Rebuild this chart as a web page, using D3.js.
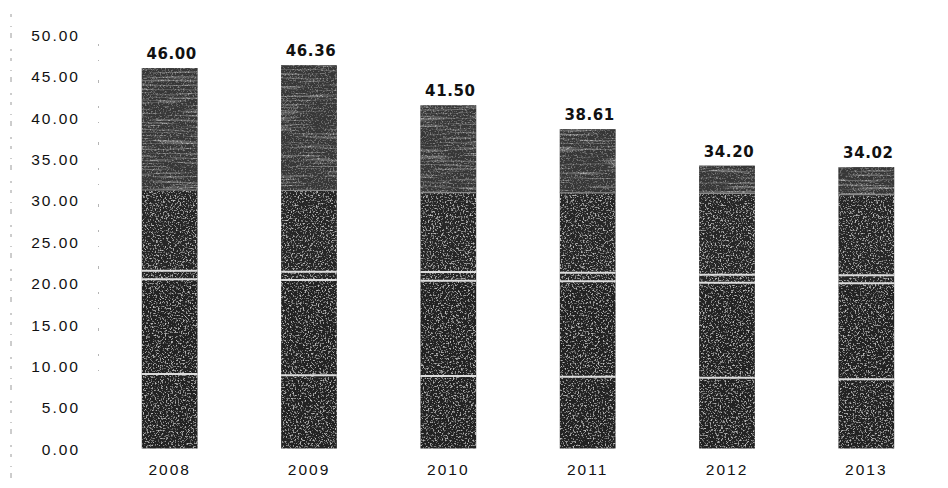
<!DOCTYPE html>
<html>
<head>
<meta charset="utf-8">
<script src="https://cdn.jsdelivr.net/npm/d3@7/dist/d3.min.js"></script>
<style>
  html, body { margin: 0; padding: 0; background: #ffffff; }
  svg { display: block; }
  .tick-label { font-family: "Liberation Sans", Arial, sans-serif; font-size: 15.5px; fill: #111; letter-spacing: 2px; }
  .value-label { font-family: "DejaVu Sans", Verdana, sans-serif; font-weight: bold; font-size: 15px; fill: #111; letter-spacing: 0.6px; }
</style>
</head>
<body>
<svg id="chart" width="948" height="488"></svg>
<script>
// Years on the category axis
const years = ["2008", "2009", "2010", "2011", "2012", "2013"];

// Total per year (printed above each bar)
const totals = [46.00, 46.36, 41.50, 38.61, 34.20, 34.02];

// Stacked components, bottom to top (the top component is the remainder of the total)
const part1 = [9.00, 8.87, 8.77, 8.68, 8.56, 8.37];
const part2 = [11.46, 11.50, 11.52, 11.54, 11.49, 11.61];
const part3 = [1.04, 1.01, 1.05, 1.04, 0.97, 0.96];
const part4 = [9.76, 9.82, 9.59, 9.64, 9.84, 9.76];

// Value axis ticks
const yTicks = [0, 5, 10, 15, 20, 25, 30, 35, 40, 45, 50];

const rows = years.map((y, i) => ({
  year: y,
  p1: part1[i],
  p2: part2[i],
  p3: part3[i],
  p4: part4[i],
  p5: totals[i] - part1[i] - part2[i] - part3[i] - part4[i],
  total: totals[i]
}));

const keys = ["p1", "p2", "p3", "p4", "p5"];
const series = d3.stack().keys(keys)(rows);

const svg = d3.select("#chart");

const x = d3.scaleBand().domain(years).range([100, 936]).paddingInner(0.6).paddingOuter(0.3);
const y = d3.scaleLinear().domain([0, 50]).range([448.5, 35]);

// Grain and streak textures for the bars
const defs = svg.append("defs");
function grainFilter(id, freq, seed, matrix, blur) {
  const f = defs.append("filter").attr("id", id)
    .attr("x", 0).attr("y", 0).attr("width", "100%").attr("height", "100%");
  f.append("feTurbulence").attr("type", "fractalNoise").attr("baseFrequency", freq)
    .attr("numOctaves", 3).attr("seed", seed).attr("result", "noise");
  f.append("feColorMatrix").attr("in", "noise").attr("type", "matrix")
    .attr("values", matrix).attr("result", "specks");
  f.append("feGaussianBlur").attr("in", "specks").attr("stdDeviation", blur).attr("result", "soft");
  f.append("feComposite").attr("in", "soft").attr("in2", "SourceGraphic").attr("operator", "in").attr("result", "sp");
  const m = f.append("feMerge");
  m.append("feMergeNode").attr("in", "SourceGraphic");
  m.append("feMergeNode").attr("in", "sp");
}
grainFilter("grain", 0.6, 7, "0 0 0 0 0.5  0 0 0 0 0.5  0 0 0 0 0.5  4.5 0 0 0 -2.45", 0.45);
grainFilter("streak", "0.02 0.45", 11, "0 0 0 0 0.55  0 0 0 0 0.55  0 0 0 0 0.55  3 0 0 0 -1.55", 0.5);

// Faint scanned guide lines on the left
svg.append("line").attr("x1", 11).attr("x2", 11).attr("y1", 14).attr("y2", 488)
  .attr("stroke", "#9a9a9a").attr("stroke-width", 1).attr("stroke-dasharray", "3 9 1 6 5 11 2 7");
svg.append("line").attr("x1", 98.5).attr("x2", 98.5).attr("y1", 44).attr("y2", 372)
  .attr("stroke", "#b5b5b5").attr("stroke-width", 1).attr("stroke-dasharray", "2 14 1 19 3 23");

// Y axis labels
const yAxis = d3.axisLeft(y).tickValues(yTicks).tickFormat(d3.format(".2f")).tickSize(0).tickPadding(0);
const gy = svg.append("g").attr("transform", "translate(80,0)").call(yAxis);
gy.select(".domain").remove();
gy.selectAll("text").attr("class", "tick-label").attr("dy", "0.36em");

// Bars
const colors = { p1: "#242424", p2: "#242424", p3: "#272727", p4: "#272727", p5: "#3b3b3b" };
const bars = svg.append("g");
series.forEach(s => {
  bars.append("g")
    .attr("filter", s.key === "p5" ? "url(#streak)" : "url(#grain)")
    .selectAll("rect")
    .data(s)
    .join("rect")
    .attr("x", d => x(d.data.year))
    .attr("width", x.bandwidth())
    .attr("y", d => y(d[1]))
    .attr("height", d => y(d[0]) - y(d[1]))
    .attr("fill", colors[s.key]);
});
// Fine grain over the top component as well
bars.append("g").attr("filter", "url(#grain)").attr("opacity", 0.5)
  .selectAll("rect").data(series[4]).join("rect")
  .attr("x", d => x(d.data.year))
  .attr("width", x.bandwidth())
  .attr("y", d => y(d[1]))
  .attr("height", d => y(d[0]) - y(d[1]))
  .attr("fill", "#363636");

// Light separators between stacked components
series.slice(0, 4).forEach(s => {
  bars.append("g").selectAll("line").data(s).join("line")
    .attr("x1", d => x(d.data.year))
    .attr("x2", d => x(d.data.year) + x.bandwidth())
    .attr("y1", d => y(d[1]))
    .attr("y2", d => y(d[1]))
    .attr("stroke", s.key === "p4" ? "#8a8a8a" : "#dcdcdc")
    .attr("stroke-width", s.key === "p4" ? 1.2 : 2);
});

// Value labels
svg.append("g").selectAll("text").data(rows).join("text")
  .attr("class", "value-label")
  .attr("x", d => x(d.year) + x.bandwidth() / 2 + 2)
  .attr("y", d => y(d.total) - 9)
  .attr("text-anchor", "middle")
  .text(d => d3.format(".2f")(d.total));

// Category labels
const xAxis = d3.axisBottom(x).tickSize(0).tickPadding(0);
const gx = svg.append("g").attr("transform", "translate(0,464)").call(xAxis);
gx.select(".domain").remove();
gx.selectAll("text").attr("class", "tick-label").attr("dy", "0.71em");
</script>
</body>
</html>
